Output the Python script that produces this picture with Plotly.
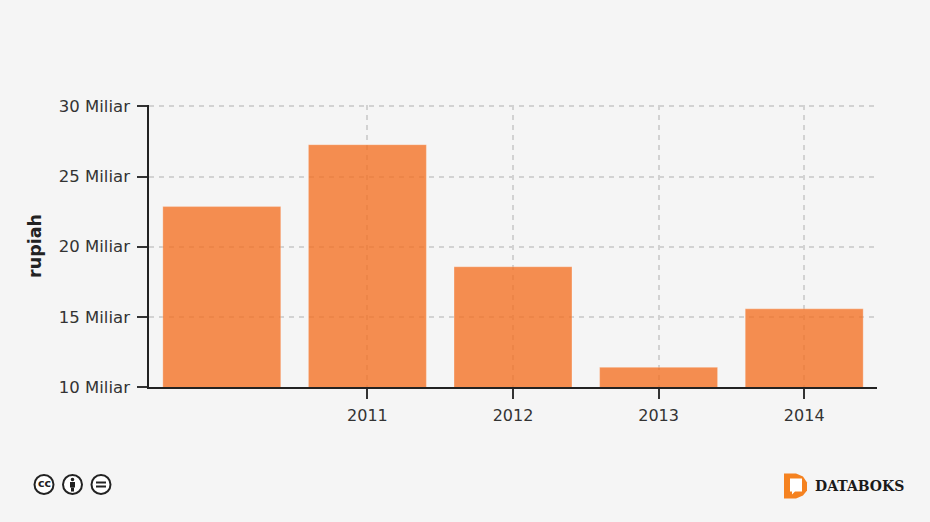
"""
Databoks bar chart: rupiah per tahun
"""

import plotly.graph_objects as go

years = [2010, 2011, 2012, 2013, 2014]
values = [22.86, 27.27, 18.57, 11.4, 15.57]

x_tick_vals = [2011, 2012, 2013, 2014]
x_tick_text = ['2011', '2012', '2013', '2014']
y_tick_vals = [10, 15, 20, 25, 30]
y_tick_text = ['10 Miliar', '15 Miliar', '20 Miliar', '25 Miliar', '30 Miliar']

BG = '#f5f5f5'
FONT = 'DejaVu Sans'
# TOP sits a bit above the 30 line, plotly drops gridlines right on the plot edge
LEFT, RIGHT, TOP, BOTTOM = 149, 877, 105.3, 386.7


def px(x):
    return (x - LEFT) / (RIGHT - LEFT)


def py(y):
    return (BOTTOM - y) / (BOTTOM - TOP)


def circle(cx, cy, r, **kwargs):
    return dict(type='circle', xref='paper', yref='paper',
                x0=px(cx - r), x1=px(cx + r), y0=py(cy + r), y1=py(cy - r), **kwargs)


def rect(x0, y0, x1, y1, color):
    return dict(type='rect', xref='paper', yref='paper', x0=px(x0), x1=px(x1),
                y0=py(y1), y1=py(y0), fillcolor=color, line=dict(width=0))


def path(points, color):
    d = 'M ' + ' L '.join(f'{px(a):.5f},{py(b):.5f}' for a, b in points) + ' Z'
    return dict(type='path', xref='paper', yref='paper', path=d, fillcolor=color, line=dict(width=0))


fig = go.Figure()
fig.add_trace(go.Bar(
    x=years,
    y=values,
    marker=dict(
        color='rgba(243,112,33,0.78)',
        line=dict(color='rgba(255,255,255,0.25)', width=1)
    ),
    hovertemplate='%{x}: %{y} Miliar<extra></extra>'
))

# Lisensi CC dan logo Databoks
icon = dict(fillcolor='white', line=dict(color='#222222', width=2))
shapes = [
    circle(44, 484, 9.5, **icon),
    circle(72.5, 484, 9.5, **icon),
    circle(101, 484, 9.5, **icon),
    circle(72.5, 479, 1.8, fillcolor='#222222', line=dict(width=0)),
    rect(70, 481.5, 75, 487, '#222222'),
    rect(71, 487, 74, 491, '#222222'),
    rect(96, 481, 106, 483, '#222222'),
    rect(96, 485, 106, 487, '#222222'),
    path([(784, 473), (796, 473), (803, 476), (807, 482), (807, 490), (803, 495),
          (796, 498), (784, 498)], '#f58220'),
    path([(790, 478), (802, 478), (802, 491), (795, 491), (792, 494), (792, 491), (790, 491)], 'white'),
]

annotations = [
    dict(text='cc', xref='paper', yref='paper', x=px(44), y=py(483), xanchor='center', yanchor='middle',
         showarrow=False, font=dict(family='DejaVu Sans', size=11, color='#222222', weight='bold')),
    dict(text='DATABOKS', xref='paper', yref='paper', x=px(813), y=py(485), xanchor='left', yanchor='middle',
         showarrow=False, font=dict(family='DejaVu Serif', size=14, color='#1a1a1a', weight='bold')),
]

fig.update_layout(
    width=930,
    height=522,
    margin=dict(l=LEFT, r=930 - RIGHT, t=TOP, b=522 - BOTTOM, autoexpand=False),
    paper_bgcolor=BG,
    plot_bgcolor=BG,
    showlegend=False,
    bargap=0.19,
    font=dict(family=FONT, size=16, color='#333333'),
    shapes=shapes,
    annotations=annotations,
    xaxis=dict(
        range=[2009.5, 2014.5],
        tickmode='array',
        tickvals=x_tick_vals,
        ticktext=x_tick_text,
        ticks='outside',
        ticklen=10,
        tickwidth=2,
        tickcolor='#333333',
        ticklabelstandoff=3,
        showline=True,
        linecolor='#222222',
        linewidth=1.5,
        showgrid=True,
        gridcolor='#d2d2d2',
        griddash='5px,5px',
        gridwidth=1.5,
        zeroline=False
    ),
    yaxis=dict(
        title=dict(text='<b>rupiah</b>', font=dict(size=17.5, color='#222222'), standoff=13),
        range=[10, 30.1],
        tickmode='array',
        tickvals=y_tick_vals,
        ticktext=y_tick_text,
        ticks='outside',
        ticklen=10,
        tickwidth=2,
        tickcolor='#333333',
        tickfont=dict(size=16.5),
        ticklabelstandoff=4,
        showline=True,
        linecolor='#222222',
        linewidth=1.5,
        showgrid=True,
        gridcolor='#d2d2d2',
        griddash='5px,5px',
        gridwidth=1.5,
        zeroline=False
    )
)

# halaman tanpa margin, supaya chart pas di jendela
fig.write_html(
    "out.html",
    config=dict(displayModeBar=False),
    post_script="document.body.style.margin='0';document.body.style.overflow='hidden';"
)
